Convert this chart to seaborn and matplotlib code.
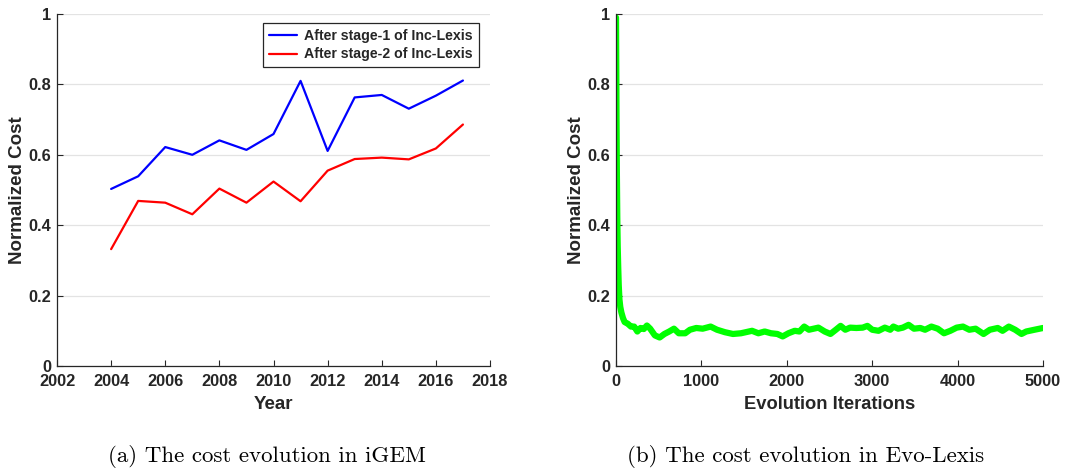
import numpy as np
import pandas as pd
import matplotlib
matplotlib.use("Agg")
import matplotlib.pyplot as plt
import seaborn as sns

# ---- data ----
years = [2004, 2005, 2006, 2007, 2008, 2009, 2010, 2011, 2012, 2013, 2014, 2015, 2016, 2017]
stage1 = [0.503, 0.539, 0.622, 0.600, 0.641, 0.614, 0.659, 0.810, 0.611, 0.763, 0.770, 0.731, 0.768, 0.811]
stage2 = [0.332, 0.469, 0.464, 0.431, 0.504, 0.464, 0.524, 0.468, 0.555, 0.588, 0.592, 0.587, 0.618, 0.686]
series_labels = ["After stage-1 of Inc-Lexis", "After stage-2 of Inc-Lexis"]

evo_iter = [0, 3, 6, 10, 15, 20, 26, 32, 40, 50, 63, 82, 101, 138, 175, 213, 250, 287, 325,
            362, 400, 455, 511, 567, 623, 679, 735, 810, 866, 940, 1015, 1108, 1183, 1276,
            1369, 1463, 1519, 1593, 1667, 1741, 1815, 1889, 1952, 2019, 2093, 2148, 2204,
            2259, 2370, 2444, 2511, 2574, 2630, 2685, 2741, 2815, 2889, 2944, 3000, 3074,
            3148, 3211, 3248, 3304, 3359, 3426, 3489, 3563, 3619, 3693, 3767, 3841, 3915,
            3989, 4063, 4137, 4211, 4304, 4378, 4470, 4526, 4600, 4674, 4748, 4804, 4900, 5000]
evo_cost = [0.99, 0.85, 0.70, 0.55, 0.42, 0.34, 0.28, 0.23, 0.19, 0.168, 0.152, 0.136, 0.125,
            0.120, 0.112, 0.112, 0.098, 0.108, 0.105, 0.115, 0.106, 0.087, 0.081, 0.091, 0.098,
            0.106, 0.093, 0.093, 0.103, 0.108, 0.106, 0.112, 0.103, 0.096, 0.091, 0.093, 0.096,
            0.100, 0.093, 0.098, 0.093, 0.091, 0.084, 0.093, 0.100, 0.098, 0.112, 0.103, 0.109,
            0.098, 0.091, 0.103, 0.114, 0.103, 0.109, 0.108, 0.109, 0.114, 0.103, 0.100, 0.109,
            0.103, 0.112, 0.106, 0.109, 0.117, 0.106, 0.108, 0.103, 0.112, 0.106, 0.093, 0.100,
            0.109, 0.112, 0.103, 0.106, 0.091, 0.103, 0.108, 0.100, 0.112, 0.103, 0.091, 0.098,
            0.103, 0.108]

captions = ["(a) The cost evolution in iGEM", "(b) The cost evolution in Evo-Lexis"]

# ---- style ----
sns.set_theme(style="white")
plt.rcParams["font.family"] = ["Liberation Sans", "DejaVu Sans"]
plt.rcParams["font.weight"] = "bold"
dark = "#262626"
W, H = 1089, 469
fig = plt.figure(figsize=(W / 100, H / 100), dpi=100)

def box(x0, x1, y0, y1):
    return [x0 / W, 1 - y1 / H, (x1 - x0) / W, (y1 - y0) / H]

axL = fig.add_axes(box(57, 490, 14, 366))
axR = fig.add_axes(box(616, 1043, 14, 366))

df = pd.DataFrame({"Year": years * 2,
                   "Cost": stage1 + stage2,
                   "Series": [series_labels[0]] * len(years) + [series_labels[1]] * len(years)})
sns.lineplot(data=df, x="Year", y="Cost", hue="Series", palette=["#0000ff", "#ff0000"],
             linewidth=1.6, ax=axL)

dfe = pd.DataFrame({"Iter": evo_iter, "Cost": evo_cost})
sns.lineplot(data=dfe, x="Iter", y="Cost", color="#00ff00", linewidth=4.5, ax=axR)

for ax in (axL, axR):
    ax.set_ylim(0, 1)
    ax.set_yticks([0, 0.2, 0.4, 0.6, 0.8, 1])
    ax.set_yticklabels(["0", "0.2", "0.4", "0.6", "0.8", "1"])
    ax.yaxis.grid(True, color="#e3e3e3", linewidth=0.9)
    ax.xaxis.grid(False)
    ax.set_axisbelow(True)
    for s in ("top", "right"):
        ax.spines[s].set_visible(False)
    for s in ("left", "bottom"):
        ax.spines[s].set_color(dark)
        ax.spines[s].set_linewidth(0.9)
    ax.tick_params(direction="in", length=4, width=0.8, color=dark, labelcolor=dark,
                   labelsize=11.8, left=True, bottom=True)
    ax.tick_params(axis="x", pad=6)
    ax.tick_params(axis="y", pad=4)
    for lab in ax.get_xticklabels() + ax.get_yticklabels():
        lab.set_fontweight("bold")
    ax.set_ylabel("Normalized Cost", fontsize=13.5, fontweight="bold", color=dark, labelpad=2)

axL.set_xlim(2002, 2018)
axL.set_xticks(range(2002, 2019, 2))
axL.set_xlabel("Year", fontsize=13.5, fontweight="bold", color=dark, labelpad=5)
for lab in axL.get_xticklabels():
    lab.set_fontweight("bold")

axR.set_xlim(0, 5000)
axR.set_xticks(range(0, 5001, 1000))
axR.set_xlabel("Evolution Iterations", fontsize=13.2, fontweight="bold", color=dark, labelpad=5)
for lab in axR.get_xticklabels():
    lab.set_fontweight("bold")

leg = axL.legend(loc="upper right", bbox_to_anchor=(0.99, 0.995), frameon=True, fancybox=False,
                 edgecolor=dark, framealpha=1, prop={"weight": "bold", "size": 10.2},
                 handlelength=2.0, handletextpad=0.5, borderpad=0.4, labelspacing=0.35)
leg.get_frame().set_linewidth(0.9)

fig.text(267 / W, 1 - 462 / H, captions[0], family="cmr10", fontsize=16.5, ha="center",
         va="baseline", color="black")
fig.text(806 / W, 1 - 462 / H, captions[1], family="cmr10", fontsize=16.5, ha="center",
         va="baseline", color="black")

fig.savefig("out.png", dpi=100)
